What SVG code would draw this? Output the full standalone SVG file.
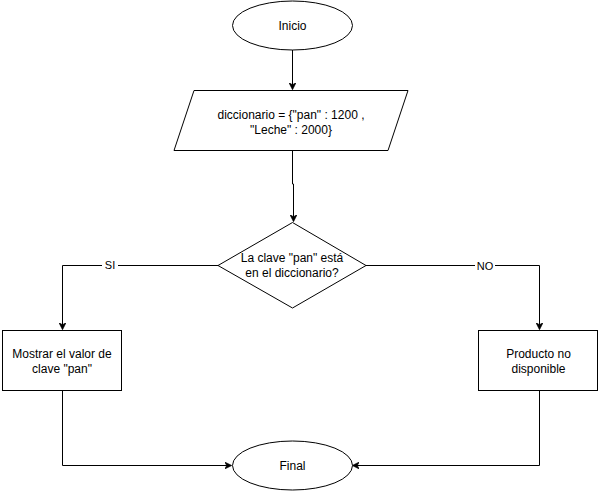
<svg xmlns="http://www.w3.org/2000/svg" width="599" height="491" viewBox="0 0 599 491">
  <style>
    .shape { fill: #ffffff; stroke: #000000; stroke-width: 1; }
    .edge { fill: none; stroke: #000000; stroke-width: 1; }
    .label { font-family: "Liberation Sans", Arial, sans-serif; font-size: 12px; fill: #000000; text-anchor: middle; }
    .elabel { font-family: "Liberation Sans", Arial, sans-serif; font-size: 11px; fill: #000000; text-anchor: middle; }
  </style>
  <defs>
    <marker id="arrow" viewBox="0 0 10 10" refX="9" refY="5" markerWidth="7" markerHeight="7" markerUnits="userSpaceOnUse" orient="auto">
      <path d="M0,0 L10,5 L0,10 L3,5 Z" fill="#000000" stroke="#000000" stroke-width="1"/>
    </marker>
  </defs>

  <g id="connectors">
    <path class="edge" d="M292.5 50 V89" marker-end="url(#arrow)"/>
    <path class="edge" d="M292.5 150 V184 H293.5 V221" marker-end="url(#arrow)"/>
    <path class="edge" d="M218 265.5 H62.5 V329" marker-end="url(#arrow)"/>
    <path class="edge" d="M366 265.5 H539.5 V329" marker-end="url(#arrow)"/>
    <path class="edge" d="M62.5 390 V465.5 H231" marker-end="url(#arrow)"/>
    <path class="edge" d="M539.5 390 V465.5 H353" marker-end="url(#arrow)"/>
    <g id="label-si">
      <rect x="102" y="258" width="16" height="13" fill="#ffffff"/>
      <text class="elabel" x="110" y="269">SI</text>
    </g>
    <g id="label-no">
      <rect x="475" y="259" width="20" height="13" fill="#ffffff"/>
      <text class="elabel" x="485" y="270">NO</text>
    </g>
  </g>

  <g id="inicio">
    <ellipse class="shape" cx="292.5" cy="25.5" rx="60" ry="24.5"/>
    <text class="label" x="292.5" y="30">Inicio</text>
  </g>

  <g id="diccionario">
    <polygon class="shape" points="194,90.5 408,90.5 388,150.5 174,150.5"/>
    <text class="label" x="291" y="119">diccionario = {"pan" : 1200 ,</text>
    <text class="label" x="291" y="134">"Leche" : 2000}</text>
  </g>

  <g id="decision">
    <polygon class="shape" points="292.5,222.5 366,265.5 292.5,308 218,265.5"/>
    <text class="label" x="292" y="262">La clave "pan" está</text>
    <text class="label" x="292" y="277">en el diccionario?</text>
  </g>

  <g id="mostrar">
    <rect class="shape" x="2.5" y="330.5" width="119" height="60"/>
    <text class="label" x="62" y="358">Mostrar el valor de</text>
    <text class="label" x="62" y="373">clave "pan"</text>
  </g>

  <g id="no-disponible">
    <rect class="shape" x="478.5" y="330.5" width="119" height="60"/>
    <text class="label" x="538.5" y="358">Producto no</text>
    <text class="label" x="538.5" y="373">disponible</text>
  </g>

  <g id="final">
    <ellipse class="shape" cx="292.5" cy="465.5" rx="60" ry="24.5"/>
    <text class="label" x="292.5" y="470">Final</text>
  </g>
</svg>
